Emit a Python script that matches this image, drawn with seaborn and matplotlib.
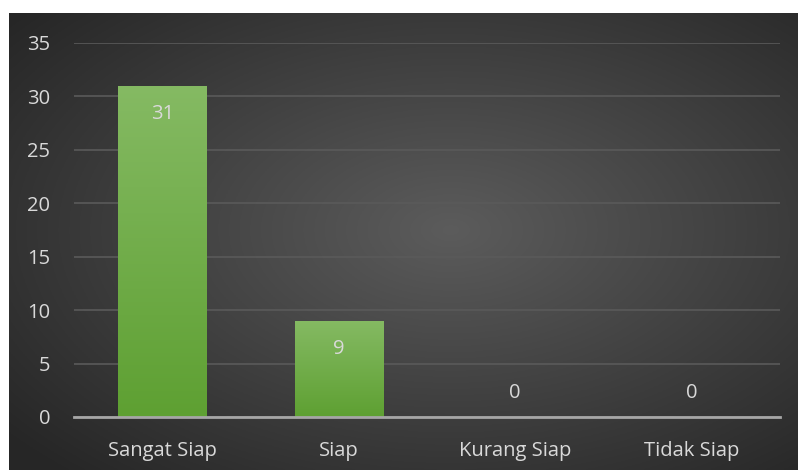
import numpy as np
import pandas as pd
import matplotlib
matplotlib.use("Agg")
import matplotlib.pyplot as plt
import seaborn as sns

# --- Data ---
categories = ["Sangat Siap", "Siap", "Kurang Siap", "Tidak Siap"]
counts = [31, 9, 0, 0]
y_ticks = [0, 5, 10, 15, 20, 25, 30, 35]

TEXT_COLOR = "#d9d9d9"
GRID_COLOR = "#5a5a5a"
FONT_SIZE = 14.5

df = pd.DataFrame({"Kategori": categories, "Jumlah": counts})

sns.set_theme(style="dark")
plt.rcParams["font.family"] = ["Open Sans", "DejaVu Sans"]

fig = plt.figure(figsize=(7.98, 4.70), dpi=100)
fig.patch.set_facecolor("white")

# radial gradient background of the chart area
bg = fig.add_axes([9 / 798, 0, 1 - 9 / 798, 457 / 470])
bg.set_axis_off()
gx, gy = np.meshgrid(np.linspace(-1, 1, 400), np.linspace(-1, 1, 240))
r = np.clip(np.sqrt((gx - 0.12) ** 2 + (gy + 0.05) ** 2) / 1.45, 0, 1)
shade = 0.36 - 0.21 * r
bg.imshow(np.dstack([shade, shade, shade]), aspect="auto", extent=[0, 1, 0, 1])
bg.set_xlim(0, 1)
bg.set_ylim(0, 1)

ax = fig.add_axes([74 / 798, 53 / 470, 706 / 798, 374 / 470])
ax.set_facecolor("none")
sns.barplot(data=df, x="Kategori", y="Jumlah", color="#70ad47", width=0.5,
            saturation=1, linewidth=0, ax=ax, zorder=3)

ax.set_ylim(0, 35)
ax.set_xlim(-0.5, len(categories) - 0.5)
ax.set_yticks(y_ticks)
ax.yaxis.grid(True, color=GRID_COLOR, linewidth=1.2, zorder=0)
ax.xaxis.grid(False)
for s in ["top", "right", "left"]:
    ax.spines[s].set_visible(False)
ax.spines["bottom"].set_color("#a6a6a6")
ax.spines["bottom"].set_linewidth(2)
ax.spines["bottom"].set_zorder(4)
ax.tick_params(axis="both", colors=TEXT_COLOR, labelsize=FONT_SIZE, length=0)
ax.tick_params(axis="y", pad=17)
ax.tick_params(axis="x", pad=17)
ax.set_xlabel("")
ax.set_ylabel("")

# vertical gradient on each bar
grad = np.linspace(0, 1, 256).reshape(-1, 1)
top_c = np.array([0x85, 0xba, 0x63]) / 255
bot_c = np.array([0x5e, 0xa0, 0x32]) / 255
grad_img = bot_c + (top_c - bot_c) * grad[..., None]
for p in ax.patches:
    h = p.get_height()
    if h <= 0:
        continue
    x0 = p.get_x()
    w = p.get_width()
    im = ax.imshow(grad_img, aspect="auto", origin="lower",
                   extent=[x0, x0 + w, 0, h], zorder=3)
    im.set_clip_path(p)

ax.set_xlim(-0.5, len(categories) - 0.5)
ax.set_ylim(0, 35)

# data labels
for i, v in enumerate(counts):
    offset = -28 if v > 0 else 24
    ax.annotate(str(v), (i, v), xytext=(0, offset), textcoords="offset pixels",
                ha="center", va="center", color=TEXT_COLOR, fontsize=FONT_SIZE, zorder=5)

fig.savefig("out.png", dpi=100)
